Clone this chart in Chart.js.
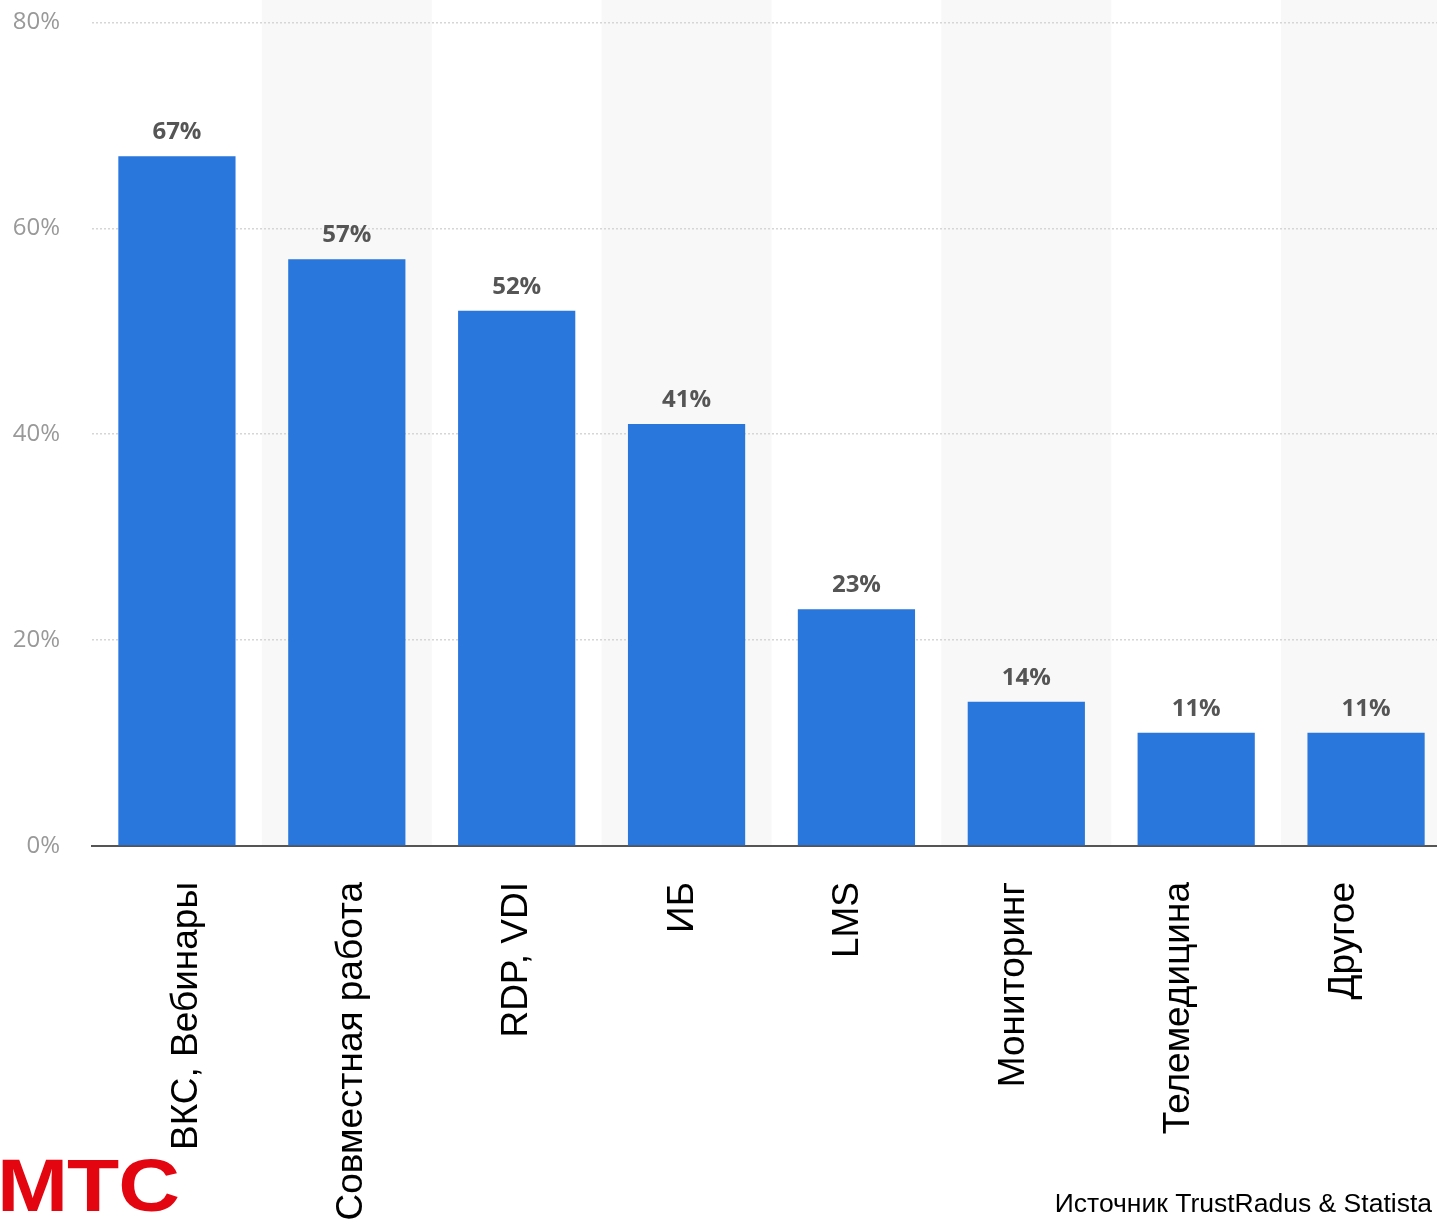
<!DOCTYPE html>
<html>
<head>
<meta charset="utf-8">
<script src="https://cdn.jsdelivr.net/npm/chart.js@4"></script>
<style>
  html, body { margin: 0; padding: 0; width: 1437px; height: 1219px; overflow: hidden; background: #ffffff; }
  #wrap { position: absolute; left: 0; top: -24px; width: 1451px; height: 1243px; }
  #logo { position: absolute; left: -3px; top: 1148px; font-family: "Liberation Sans", Arial, sans-serif; font-weight: bold;
          font-size: 75px; line-height: 75px; color: #E30611; transform: scaleX(1.14); transform-origin: left top; letter-spacing: -1px; }
  #source { position: absolute; right: 5px; top: 1190px; font-family: "Liberation Sans", Arial, sans-serif;
            font-size: 26.5px; line-height: 26px; color: #000; }
</style>
</head>
<body>
<div id="wrap"><canvas id="c" width="1451" height="1243"></canvas></div>
<div id="logo">МТС</div>
<div id="source">Источник TrustRadus &amp; Statista</div>
<script>
const categories = ["ВКС, Вебинары", "Совместная работа", "RDP, VDI", "ИБ", "LMS", "Мониторинг", "Телемедицина", "Другое"];
const values = [67, 57, 52, 41, 23, 14, 11, 11];
const yTicks = [0, 20, 40, 60, 80];
const labelIndex = [0, 1, 2, 3, 4, 5, 6, 7];

const bandPlugin = {
  id: 'bands',
  beforeDraw(chart) {
    const {ctx, chartArea, scales} = chart;
    const x = scales.x;
    const half = (x.getPixelForValue(1) - x.getPixelForValue(0)) / 2;
    ctx.save();
    ctx.fillStyle = '#f8f8f8';
    for (let i = 1; i < categories.length; i += 2) {
      const c = x.getPixelForValue(i);
      ctx.fillRect(c - half, 0, half * 2, chartArea.bottom);
    }
    ctx.restore();
  }
};

const labelPlugin = {
  id: 'valueLabels',
  afterDatasetsDraw(chart) {
    const {ctx} = chart;
    const meta = chart.getDatasetMeta(0);
    ctx.save();
    ctx.font = 'bold 24px "Open Sans", sans-serif';
    ctx.fillStyle = '#555555';
    ctx.textAlign = 'center';
    ctx.textBaseline = 'bottom';
    meta.data.forEach((bar, i) => {
      ctx.fillText(values[i] + '%', bar.x, bar.y - 12);
    });
    ctx.restore();
  }
};

new Chart(document.getElementById('c'), {
  type: 'bar',
  data: {
    labels: categories,
    datasets: [{
      data: values,
      backgroundColor: '#2976DD',
      borderWidth: 0,
      barPercentage: 0.69,
      categoryPercentage: 1.0
    }]
  },
  options: {
    responsive: false,
    animation: false,
    layout: { padding: 0 },
    plugins: { legend: { display: false }, tooltip: { enabled: false } },
    scales: {
      x: {
        weight: 0,
        afterFit(axis) { axis.height = 0; },
        grid: { display: false, drawTicks: false },
        border: { display: true, color: '#555555', width: 2 },
        ticks: { display: false }
      },
      xLabels: {
        type: 'linear',
        position: 'bottom',
        weight: 1,
        offset: false,
        bounds: 'data',
        min: -0.571,
        max: 7.646,
        afterFit(axis) { axis.height = 373; },
        afterBuildTicks(axis) { axis.ticks = labelIndex.map(v => ({ value: v })); },
        afterDataLimits(axis) { axis.min = -0.571; axis.max = 7.646; },
        grid: { display: false, drawTicks: false, offset: false },
        border: { display: false },
        ticks: {
          autoSkip: false,
          maxRotation: 90,
          minRotation: 90,
          padding: 36,
          stepSize: 1,
          color: '#000000',
          font: { family: '"Liberation Sans", Arial, sans-serif', size: 37 },
          callback: v => categories[v]
        }
      },
      y: {
        min: 0,
        max: 80,
        afterFit(axis) { axis.width = 92; },
        afterBuildTicks(axis) { axis.ticks = yTicks.map(v => ({ value: v })); },
        grid: { color: '#d6d6d6', lineWidth: 1.5, drawTicks: false },
        border: { display: false, dash: [2, 2] },
        ticks: {
          padding: 32,
          color: '#999999',
          font: { family: '"Open Sans", sans-serif', size: 24 },
          callback: v => v + '%'
        }
      }
    }
  },
  plugins: [bandPlugin, labelPlugin]
});
</script>
</body>
</html>
